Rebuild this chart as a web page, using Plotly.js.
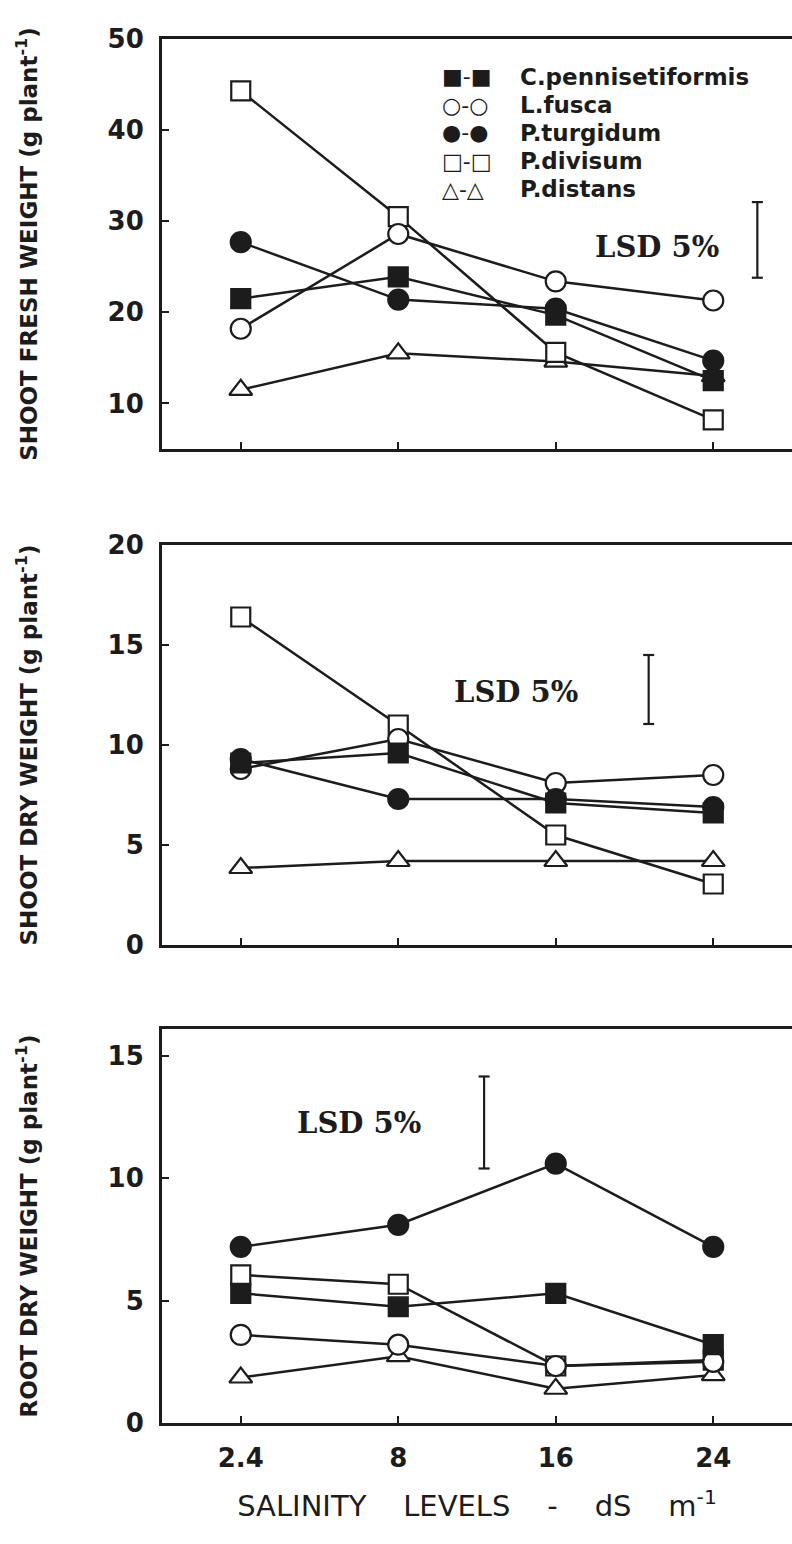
<!DOCTYPE html>
<html><head><meta charset="utf-8">
<script src="https://cdn.plot.ly/plotly-3.0.1.min.js"></script>
<style>html,body{margin:0;padding:0;background:#fff;} #chart{width:792px;height:1544px;}</style>
</head><body><div id="chart"></div>
<script>
// ---------- DATA ----------
const salinity = ["2.4", "8", "16", "24"];
const species = ["C.pennisetiformis", "L.fusca", "P.turgidum", "P.divisum", "P.distans"];

// Shoot fresh weight (g plant-1)
const freshCpen = [21.5, 23.9, 19.7, 12.5];
const freshLfus = [18.2, 28.6, 23.4, 21.3];
const freshPtur = [27.7, 21.4, 20.4, 14.7];
const freshPdiv = [44.3, 30.5, 15.6, 8.2];
const freshPdis = [11.5, 15.5, 14.6, 13.0];

// Shoot dry weight (g plant-1)
const dryCpen = [9.1, 9.6, 7.1, 6.6];
const dryLfus = [8.8, 10.3, 8.1, 8.5];
const dryPtur = [9.3, 7.3, 7.3, 6.9];
const dryPdiv = [16.4, 11.0, 5.5, 3.05];
const dryPdis = [3.85, 4.2, 4.2, 4.2];

// Root dry weight (g plant-1)
const rootCpen = [5.3, 4.75, 5.3, 3.2];
const rootLfus = [3.6, 3.2, 2.33, 2.5];
const rootPtur = [7.2, 8.1, 10.6, 7.2];
const rootPdiv = [6.05, 5.67, 2.33, 2.57];
const rootPdis = [1.86, 2.73, 1.4, 1.96];

// LSD 5% values for each panel
const lsdValues = [8.3, 3.45, 3.76];

const yTitles = [
  "SHOOT FRESH WEIGHT (g plant<sup>-1</sup>)",
  "SHOOT DRY WEIGHT (g plant<sup>-1</sup>)",
  "ROOT DRY WEIGHT (g plant<sup>-1</sup>)"
];
const xTitle = "SALINITY&nbsp;&nbsp;&nbsp;&nbsp;LEVELS&nbsp;&nbsp;&nbsp;&nbsp;-&nbsp;&nbsp;&nbsp;&nbsp;dS&nbsp;&nbsp;&nbsp;&nbsp;m<sup>-1</sup>";
const lsdLabel = "LSD 5%";
const yTickVals = [[10, 20, 30, 40, 50], [0, 5, 10, 15, 20], [0, 5, 10, 15]];

const panelData = [
  [freshCpen, freshLfus, freshPtur, freshPdiv, freshPdis],
  [dryCpen, dryLfus, dryPtur, dryPdiv, dryPdis],
  [rootCpen, rootLfus, rootPtur, rootPdiv, rootPdis]
];

// ---------- STYLE ----------
const INK = "#1c1c1c";
const W = 792, H = 1544, L = 162;
const SANS = "DejaVu Sans";
const SERIF = "DejaVu Serif";
const panelStyle = [
  {top: 39, bottom: 449, range: [5, 50], lsdX: 3.28, lsdBase: 23.8, labX: 2.64, labY: 27.2},
  {top: 545, bottom: 945, range: [0, 20], lsdX: 2.59, lsdBase: 11.05, labX: 1.75, labY: 12.65},
  {top: 1029, bottom: 1423, range: [0, 16.1], lsdX: 1.545, lsdBase: 10.4, labX: 0.75, labY: 12.24}
];
const markerStyle = [
  {symbol: "square", fill: INK, size: 19},
  {symbol: "circle", fill: "#ffffff", size: 20},
  {symbol: "circle", fill: INK, size: 20},
  {symbol: "square", fill: "#ffffff", size: 19},
  {symbol: "triangle-up", fill: "#ffffff", size: 20}
];
const drawOrder = [4, 3, 1, 2, 0]; // open markers first, filled on top
const legendGlyphs = ["\u25A0-\u25A0", "\u25CB-\u25CB", "\u25CF-\u25CF", "\u25A1-\u25A1", "\u25B3-\u25B3"];
const legendRowsPx = [77, 105, 133, 161, 189];

// ---------- BUILD ----------
const traces = [];
const layout = {
  width: W, height: H,
  margin: {l: L, r: 0, t: 0, b: 0},
  paper_bgcolor: "#ffffff", plot_bgcolor: "#ffffff",
  showlegend: false,
  font: {family: SANS, color: INK},
  shapes: [], annotations: []
};

panelStyle.forEach((p, i) => {
  const n = i === 0 ? "" : String(i + 1);
  const xa = "x" + n, ya = "y" + n;
  drawOrder.forEach(s => {
    const vals = panelData[i][s];
    const m = markerStyle[s];
    traces.push({
      type: "scatter", mode: "lines+markers",
      x: salinity, y: vals, name: species[s],
      xaxis: xa, yaxis: ya,
      line: {color: INK, width: 2.5},
      marker: {symbol: m.symbol, size: m.size, color: m.fill, line: {color: INK, width: 2.2}},
      cliponaxis: false, hoverinfo: "x+y+name"
    });
  });
  const xaxis = {
    type: "category", range: [-0.5, 3.5], anchor: ya, domain: [0, 1],
    showline: true, linewidth: 3, linecolor: INK, mirror: true,
    ticks: "inside", ticklen: 7, tickwidth: 2, tickcolor: INK,
    showgrid: false, zeroline: false,
    showticklabels: i === 2,
    tickfont: {family: SANS, size: 26, weight: "bold", color: INK},
    ticklabelstandoff: 10
  };
  if (i === 2) xaxis.title = {text: xTitle, font: {family: SANS, size: 29, color: INK}, standoff: 24};
  layout["xaxis" + n] = xaxis;
  layout["yaxis" + n] = {
    domain: [1 - p.bottom / H, 1 - p.top / H], range: p.range, anchor: xa,
    tickvals: yTickVals[i],
    showline: true, linewidth: 3, linecolor: INK, mirror: false,
    ticks: "inside", ticklen: 7, tickwidth: 2, tickcolor: INK,
    showgrid: false, zeroline: false,
    tickfont: {family: SANS, size: 26, weight: "bold", color: INK},
    ticklabelstandoff: 10,
    title: {text: yTitles[i], font: {family: SANS, size: 23, weight: "bold", color: INK}, standoff: 64}
  };
  // LSD bar
  const top = p.lsdBase + lsdValues[i];
  const cap = 0.035;
  const ln = {color: INK, width: 2.2};
  layout.shapes.push(
    {type: "line", xref: xa, yref: ya, x0: p.lsdX, x1: p.lsdX, y0: p.lsdBase, y1: top, line: ln},
    {type: "line", xref: xa, yref: ya, x0: p.lsdX - cap, x1: p.lsdX + cap, y0: p.lsdBase, y1: p.lsdBase, line: ln},
    {type: "line", xref: xa, yref: ya, x0: p.lsdX - cap, x1: p.lsdX + cap, y0: top, y1: top, line: ln}
  );
  layout.annotations.push({
    xref: xa, yref: ya, x: p.labX, y: p.labY, text: lsdLabel, showarrow: false,
    font: {family: SERIF, size: 29, weight: "bold", color: INK}, xanchor: "center", yanchor: "middle"
  });
});

// Legend (panel 1)
species.forEach((name, s) => {
  const y = 1 - legendRowsPx[s] / H;
  layout.annotations.push({
    xref: "paper", yref: "paper", x: (440 - L) / (W - L), y: y, text: legendGlyphs[s],
    showarrow: false, xanchor: "left", yanchor: "middle",
    font: {family: SANS, size: 22, color: INK}
  });
  layout.annotations.push({
    xref: "paper", yref: "paper", x: (518 - L) / (W - L), y: y, text: name,
    showarrow: false, xanchor: "left", yanchor: "middle",
    font: {family: SANS, size: 23, weight: "bold", color: INK}
  });
});

Plotly.newPlot("chart", traces, layout, {displayModeBar: false, staticPlot: true});
</script>
</body></html>
